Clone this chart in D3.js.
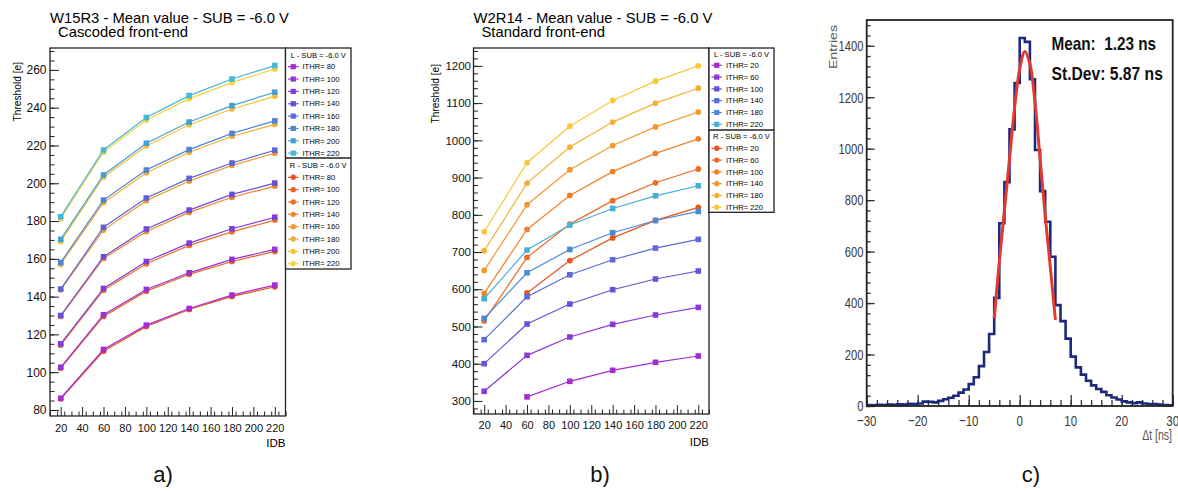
<!DOCTYPE html>
<html>
<head>
<meta charset="utf-8">
<script src="https://cdn.jsdelivr.net/npm/d3@7"></script>
<style>
  body { margin: 0; background: #fff; }
  svg { display: block; font-family: "Liberation Sans", Arial, sans-serif; }
</style>
</head>
<body>
<svg id="fig" width="1178" height="491"></svg>
<script>
// ---- data ----
var idb = [20, 60, 100, 140, 180, 220];
var idbTicks = [20, 40, 60, 80, 100, 120, 140, 160, 180, 200, 220];

// panel a: W15R3, cascoded
var ithrA = [80, 100, 120, 140, 160, 180, 200, 220];
var aLeft = [
  [86.2, 112.0, 124.9, 133.7, 140.8, 146.1],
  [102.6, 130.4, 143.8, 152.6, 159.7, 165.0],
  [115.0, 144.3, 158.6, 168.3, 175.9, 182.0],
  [130.0, 161.1, 175.8, 185.8, 194.1, 200.1],
  [144.0, 176.7, 192.2, 202.6, 210.7, 217.5],
  [158.1, 191.1, 207.0, 217.8, 226.4, 233.0],
  [170.3, 204.4, 221.2, 232.4, 241.1, 248.2],
  [182.3, 217.6, 234.8, 246.4, 255.2, 262.3]
];
var aRight = [
  [85.9, 111.1, 124.2, 133.2, 140.1, 145.2],
  [102.1, 129.5, 142.9, 151.8, 158.6, 163.9],
  [114.3, 143.4, 157.4, 167.1, 174.3, 180.5],
  [129.5, 160.2, 174.5, 184.6, 192.6, 198.5],
  [143.6, 175.2, 190.8, 201.2, 209.5, 215.9],
  [157.1, 189.7, 205.6, 216.4, 224.9, 231.2],
  [169.2, 203.2, 219.7, 231.0, 239.3, 246.1],
  [181.2, 216.4, 233.5, 244.8, 253.3, 260.5]
];
var aYTicks = [80, 100, 120, 140, 160, 180, 200, 220, 240, 260];

// panel b: W2R14, standard
var ithrB = [20, 60, 100, 140, 180, 220];
var bLeft = [
  [null, 311, 352.8, 382.3, 403.8, 420.7],
  [326, 422.5, 471.8, 505.7, 530.9, 551.3],
  [400.2, 506.7, 560.4, 598.8, 627.5, 649],
  [464.6, 580, 639, 679.3, 710.7, 734],
  [521.8, 644.4, 707, 751.8, 784.8, 809],
  [574.6, 705.3, 772.5, 817, 851, 878]
];
var bRight = [
  [null, 590, 677, 738, 785, 820],
  [515, 685.5, 775, 838, 886, 923],
  [589, 760.7, 852, 916, 965, 1004],
  [650.6, 827, 921, 986, 1036, 1076],
  [703.5, 885, 982, 1049, 1100, 1140],
  [754.5, 940, 1038, 1107, 1159, 1200]
];
var bYTicks = [300, 400, 500, 600, 700, 800, 900, 1000, 1100, 1200];

// panel c: time difference histogram, 1 ns bins from -30 to 30
var binLow = -30;
var histCounts = [
  4, 3, 5, 4, 6, 5, 7, 6, 9, 8,
  10, 17, 16, 14, 20, 26, 32, 40, 52, 64,
  85, 112, 155, 210, 280, 420, 710, 870, 1075, 1255,
  1430, 1415, 1270, 995, 835, 716, 580, 392, 330, 262,
  192, 150, 122, 98, 80, 66, 55, 42, 33, 25,
  18, 14, 11, 14, 10, 8, 8, 6, 4, 3
];
var fitT = [-5, -4, -3, -2, -1, 0, 1, 2, 3, 4, 5, 6, 7];
var fitVals = [340, 560, 760, 960, 1160, 1310, 1378, 1330, 1180, 960, 740, 540, 335];
var cXTicks = [-30, -20, -10, 0, 10, 20, 30];
var cYTicks = [0, 200, 400, 600, 800, 1000, 1200, 1400];

var colLA = ['#a52ccf', '#9633d5', '#803dda', '#6c4dd8', '#5e66d6', '#4f84d4', '#44a0d4', '#45b8d6'];
var colRA = ['#e8541c', '#eb6220', '#ee7226', '#f0852c', '#f29a30', '#f5ae33', '#f7c136', '#f9d23c'];
var colLB = ['#a52ccf', '#8a3ad8', '#6d4ed8', '#5a6ad6', '#4a8cd2', '#46b0d6'];
var colRB = ['#e8541c', '#ed6b22', '#ef8028', '#f2982e', '#f5b034', '#f8c83a'];

var svg = d3.select('#fig');
svg.append('rect').attr('width', 1178).attr('height', 491).attr('fill', '#fff');
var fmt = d3.format('d');

function rootPanel(o) {
  var g = svg.append('g');
  var x = d3.scaleLinear().domain(o.xDom).range(o.xRange);
  var y = d3.scaleLinear().domain(o.yDom).range(o.yRange);
  var x0 = o.xRange[0], x1 = o.xRange[1], y0 = o.yRange[0], y1 = o.yRange[1];

  g.append('g').attr('transform', 'translate(' + x0 + ',0)')
    .call(d3.axisLeft(y).tickValues(o.yMinor).tickSize(-4.5).tickFormat(''))
    .call(function (s) { s.select('.domain').remove(); s.selectAll('line').attr('stroke', '#222'); });
  g.append('g').attr('transform', 'translate(' + x0 + ',0)')
    .call(d3.axisLeft(y).tickValues(o.yTicks).tickSize(-9).tickPadding(o.yPad).tickFormat(fmt))
    .call(function (s) {
      s.select('.domain').remove();
      s.selectAll('line').attr('stroke', '#222');
      s.selectAll('text').attr('font-size', o.yFont).attr('fill', '#111').attr('font-family', null);
    });
  g.append('g').attr('transform', 'translate(0,' + y0 + ')')
    .call(d3.axisBottom(x).tickValues(o.xMinor).tickSize(-4.5).tickFormat(''))
    .call(function (s) { s.select('.domain').remove(); s.selectAll('line').attr('stroke', '#222'); });
  g.append('g').attr('transform', 'translate(0,' + y0 + ')')
    .call(d3.axisBottom(x).tickValues(idbTicks).tickSize(-9).tickPadding(o.xPad).tickFormat(fmt))
    .call(function (s) {
      s.select('.domain').remove();
      s.selectAll('line').attr('stroke', '#222');
      s.selectAll('text').attr('font-size', 11).attr('fill', '#111').attr('font-family', null);
    });

  g.append('rect').attr('x', x0).attr('y', y1).attr('width', x1 - x0).attr('height', y0 - y1)
    .attr('fill', 'none').attr('stroke', '#222').attr('stroke-width', 1.3);

  // titles
  g.append('text').attr('x', x0).attr('y', 22.5).attr('font-size', 14.8).text(o.title);
  g.append('text').attr('x', x0 + o.subDx).attr('y', 37).attr('font-size', 14.8).text(o.subtitle);
  g.append('text').attr('transform', 'translate(' + o.yLabX + ',' + o.yLabTop + ') rotate(-90)')
    .attr('text-anchor', 'end').attr('font-size', 10.2).text('Threshold [e]');
  g.append('text').attr('x', x1).attr('y', o.xLabY).attr('text-anchor', 'end')
    .attr('font-size', 11.5).text('IDB');

  var line = d3.line().defined(function (d) { return d[1] != null; })
    .x(function (d) { return x(d[0]); }).y(function (d) { return y(d[1]); });

  function drawSeries(vals, col, shape) {
    var pts = idb.map(function (v, i) { return [v, vals[i]]; });
    g.append('path').attr('d', line(pts)).attr('fill', 'none').attr('stroke', col).attr('stroke-width', 1.2);
    var ok = pts.filter(function (d) { return d[1] != null; });
    if (shape === 'sq') {
      g.selectAll(null).data(ok).enter().append('rect')
        .attr('x', function (d) { return x(d[0]) - 2.8; }).attr('y', function (d) { return y(d[1]) - 2.8; })
        .attr('width', 5.6).attr('height', 5.6).attr('fill', col);
    } else {
      g.selectAll(null).data(ok).enter().append('circle')
        .attr('cx', function (d) { return x(d[0]); }).attr('cy', function (d) { return y(d[1]); })
        .attr('r', 2.9).attr('fill', col);
    }
  }
  o.right.forEach(function (v, i) { drawSeries(v, o.colR[i], 'ci'); });
  o.left.forEach(function (v, i) { drawSeries(v, o.colL[i], 'sq'); });

  // legend
  var lg = o.legend;
  var lgx1 = lg.x1;
  g.append('rect').attr('x', x1).attr('y', y1).attr('width', lgx1 - x1).attr('height', lg.bottom - y1)
    .attr('fill', '#fff').attr('stroke', '#222').attr('stroke-width', 1.3);
  g.append('line').attr('x1', x1).attr('x2', lgx1).attr('y1', lg.divider).attr('y2', lg.divider)
    .attr('stroke', '#222').attr('stroke-width', 1.3);
  var cx = (x1 + lgx1) / 2;
  function block(head, headY, rowY, rowH, cols, shape) {
    g.append('text').attr('x', cx).attr('y', headY + 2.6).attr('text-anchor', 'middle')
      .attr('font-size', 7.6).text(head);
    o.ithr.forEach(function (t, i) {
      var yy = rowY + i * rowH;
      var lx = x1 + 2.5;
      g.append('line').attr('x1', lx).attr('x2', lx + 10.5).attr('y1', yy).attr('y2', yy)
        .attr('stroke', cols[i]).attr('stroke-width', 1.2);
      if (shape === 'sq') {
        g.append('rect').attr('x', lx + 5.25 - 2.6).attr('y', yy - 2.6).attr('width', 5.2).attr('height', 5.2).attr('fill', cols[i]);
      } else {
        g.append('circle').attr('cx', lx + 5.25).attr('cy', yy).attr('r', 2.7).attr('fill', cols[i]);
      }
      g.append('text').attr('x', lx + 14.5).attr('y', yy + 2.7).attr('font-size', 7.6).text('ITHR= ' + t);
    });
  }
  block('L - SUB = -6.0 V', lg.lHead, lg.lRow, lg.rowH, o.colL, 'sq');
  block('R - SUB = -6.0 V', lg.rHead, lg.rRow, lg.rowH, o.colR, 'ci');
}

rootPanel({
  xDom: [10, 230], xRange: [50, 285.5], yDom: [76.8, 271.6], yRange: [416, 48],
  yTicks: aYTicks, yMinor: d3.range(80, 271, 5), xMinor: d3.range(10, 231, 20 / 3),
  yPad: 3.5, xPad: 8.2, yFont: 12,
  title: 'W15R3 - Mean value - SUB = -6.0 V', subtitle: 'Cascoded front-end', subDx: 8,
  yLabX: 21, yLabTop: 62, xLabY: 447,
  left: aLeft, right: aRight, colL: colLA, colR: colRA, ithr: ithrA,
  legend: { x1: 351, bottom: 269, divider: 158, lHead: 55, lRow: 66.7, rHead: 165.3, rRow: 177.3, rowH: 12.35 }
});

rootPanel({
  xDom: [10, 230], xRange: [473.5, 709], yDom: [265, 1248], yRange: [414, 48],
  yTicks: bYTicks, yMinor: d3.range(280, 1248, 20), xMinor: d3.range(10, 231, 20 / 3),
  yPad: 2.5, xPad: 7.5, yFont: 11.5,
  title: 'W2R14 - Mean value - SUB = -6.0 V', subtitle: 'Standard front-end', subDx: 8,
  yLabX: 439, yLabTop: 64, xLabY: 446,
  left: bLeft, right: bRight, colL: colLB, colR: colRB, ithr: ithrB,
  legend: { x1: 774, bottom: 212.3, divider: 130, lHead: 54, lRow: 65.3, rHead: 136.7, rRow: 148.3, rowH: 11.8 }
});

// ---- panel c (pasted plot, text looks stretched vertically) ----
(function () {
  var g = svg.append('g');
  var x = d3.scaleLinear().domain([-30, 30]).range([866.7, 1172.7]);
  var y = d3.scaleLinear().domain([0, 1500]).range([406, 20]);
  var stretch = 1.35;

  g.append('g').attr('transform', 'translate(866.7,0)')
    .call(d3.axisLeft(y).tickValues(d3.range(0, 1500, 40)).tickSize(-4).tickFormat(''))
    .call(function (s) { s.select('.domain').remove(); s.selectAll('line').attr('stroke', '#333').attr('stroke-width', 1.3); });
  g.append('g').attr('transform', 'translate(866.7,0)')
    .call(d3.axisLeft(y).tickValues(cYTicks).tickSize(-8).tickFormat(''))
    .call(function (s) { s.select('.domain').remove(); s.selectAll('line').attr('stroke', '#333').attr('stroke-width', 1.3); });
  g.append('g').attr('transform', 'translate(0,406)')
    .call(d3.axisBottom(x).tickValues(d3.range(-30, 31, 2)).tickSize(-6).tickFormat(''))
    .call(function (s) { s.select('.domain').remove(); s.selectAll('line').attr('stroke', '#333').attr('stroke-width', 1.3); });
  g.append('g').attr('transform', 'translate(0,406)')
    .call(d3.axisBottom(x).tickValues(cXTicks).tickSize(-11).tickFormat(''))
    .call(function (s) { s.select('.domain').remove(); s.selectAll('line').attr('stroke', '#333').attr('stroke-width', 1.3); });

  g.selectAll(null).data(cYTicks).enter().append('text')
    .attr('transform', function (d) { return 'translate(863.5,' + y(d) + ') scale(1,' + stretch + ')'; })
    .attr('dy', '0.35em').attr('text-anchor', 'end').attr('font-size', 11.2).attr('fill', '#3a3a3a')
    .text(fmt);
  g.selectAll(null).data(cXTicks).enter().append('text')
    .attr('transform', function (d) { return 'translate(' + x(d) + ',425.5) scale(1,' + stretch + ')'; })
    .attr('text-anchor', 'middle').attr('font-size', 11.5).attr('fill', '#3a3a3a')
    .text(fmt);

  var pts = histCounts.map(function (c, i) { return [binLow + i, c]; });
  pts.push([binLow + histCounts.length, histCounts[histCounts.length - 1]]);
  var step = d3.line().curve(d3.curveStepAfter)
    .x(function (d) { return x(d[0]); }).y(function (d) { return y(d[1]); });
  g.append('path').attr('d', step(pts)).attr('fill', 'none').attr('stroke', '#1d2a7c').attr('stroke-width', 2.6);

  var fit = d3.line().curve(d3.curveCatmullRom)
    .x(function (d) { return x(d); }).y(function (d, i) { return y(fitVals[i]); });
  g.append('path').attr('d', fit(fitT)).attr('fill', 'none').attr('stroke', '#e03a32').attr('stroke-width', 3);

  g.append('rect').attr('x', 866.7).attr('y', 20).attr('width', 306).attr('height', 386)
    .attr('fill', 'none').attr('stroke', '#222').attr('stroke-width', 1.8);

  g.append('text').attr('transform', 'translate(837,25) rotate(-90) scale(' + stretch + ',1)')
    .attr('text-anchor', 'end').attr('font-size', 10.5).attr('fill', '#555').text('Entries');
  g.append('text').attr('transform', 'translate(1172,440) scale(1,' + stretch + ')')
    .attr('text-anchor', 'end').attr('font-size', 10.5).attr('fill', '#555').text('\u0394t [ns]');

  var stats = g.append('g').attr('font-weight', 'bold').attr('font-size', 18).attr('fill', '#111');
  stats.append('text').attr('transform', 'translate(1051.5,50) scale(0.85,1)')
    .attr('xml:space', 'preserve').text('Mean:  1.23 ns');
  stats.append('text').attr('transform', 'translate(1051.5,80) scale(0.87,1)').text('St.Dev: 5.87 ns');
})();

// panel letters
[['a)', 163], ['b)', 600], ['c)', 1031]].forEach(function (p) {
  svg.append('text').attr('x', p[1]).attr('y', 482).attr('text-anchor', 'middle')
    .attr('font-size', 22).attr('fill', '#111').text(p[0]);
});
</script>
</body>
</html>
